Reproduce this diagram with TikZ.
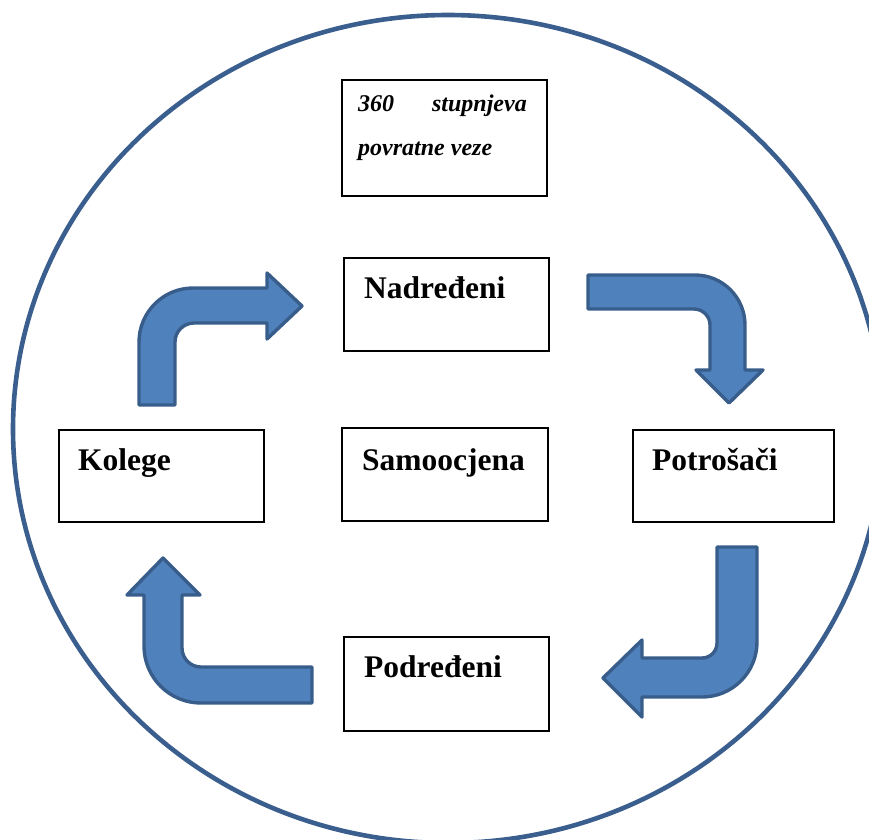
\documentclass[tikz,border=0pt]{standalone}
\usepackage{fontspec}
\setmainfont{Liberation Serif}
\definecolor{ringblue}{HTML}{3A5F8E}
\definecolor{arrfill}{HTML}{4F81BD}
\definecolor{arrline}{HTML}{385D8A}
\begin{document}
\begin{tikzpicture}[x=1pt,y=-1pt,
  box/.style={draw=black,line width=1.6pt,rectangle,inner sep=0pt,anchor=north west},
  lbl/.style={anchor=base west,inner sep=0pt,font=\fontsize{31.5}{36}\selectfont\bfseries},
  toplbl/.style={anchor=base west,inner sep=0pt,font=\fontsize{24}{28}\selectfont\bfseries\itshape},
  bent/.style={fill=arrfill,draw=arrline,line width=3.4pt,line join=round}]
\useasboundingbox (0,0) rectangle (869,839);
\begin{scope}
\clip (0,0) rectangle (869,839);
\draw[ringblue,line width=4.6pt] (448,429) ellipse [x radius=435,y radius=414];
\end{scope}
% boxes
\node[box,minimum width=205pt,minimum height=116pt] (top) at (341,79) {};
\node[toplbl] at (358,111) {360};
\node[toplbl,anchor=base east] at (527,111) {stupnjeva};
\node[toplbl] at (358,155) {povratne veze};
\node[box,minimum width=205pt,minimum height=93pt] (nad) at (343,257) {};
\node[lbl] at (364,298) {Nadređeni};
\node[box,minimum width=205pt,minimum height=92pt] (kol) at (58,429) {};
\node[lbl] at (78,470) {Kolege};
\node[box,minimum width=206pt,minimum height=93pt] (sam) at (341,427) {};
\node[lbl] at (362,470) {Samoocjena};
\node[box,minimum width=201pt,minimum height=92pt] (pot) at (632,429) {};
\node[lbl] at (652,470) {Potrošači};
\node[box,minimum width=205pt,minimum height=94pt] (pod) at (343,636) {};
\node[lbl] at (364,677) {Podređeni};
% bent arrows
\draw[bent] (139,405) -- (139,342) .. controls (139,312.2) and (163.2,288) .. (193,288)
  -- (267,288) -- (267,273) -- (302,306) -- (267,339) -- (267,323) -- (194,323)
  .. controls (183.5,323) and (175,331.5) .. (175,342) -- (175,405) -- cycle;
\draw[bent] (588,275) -- (695,275) .. controls (722.6,275) and (745,297.4) .. (745,325)
  -- (745,370) -- (763,370) -- (729,403) -- (696,370) -- (710,370) -- (710,325)
  .. controls (710,316.2) and (702.8,309) .. (694,309) -- (588,309) -- cycle;
\draw[bent] (717,547) -- (757,547) -- (757,642) .. controls (757,672.4) and (732.4,697) .. (702,697)
  -- (642,697) -- (642,717) -- (603,678) -- (642,640) -- (642,658) -- (702,658)
  .. controls (710.3,658) and (717,651.3) .. (717,643) -- cycle;
\draw[bent] (312,667) -- (201,667) .. controls (190.5,667) and (182,658.5) .. (182,648)
  -- (182,595) -- (200,595) -- (163,558) -- (127,595) -- (144,595) -- (144,646)
  .. controls (144,677.5) and (169.5,703) .. (201,703) -- (312,703) -- cycle;
\end{tikzpicture}
\end{document}
